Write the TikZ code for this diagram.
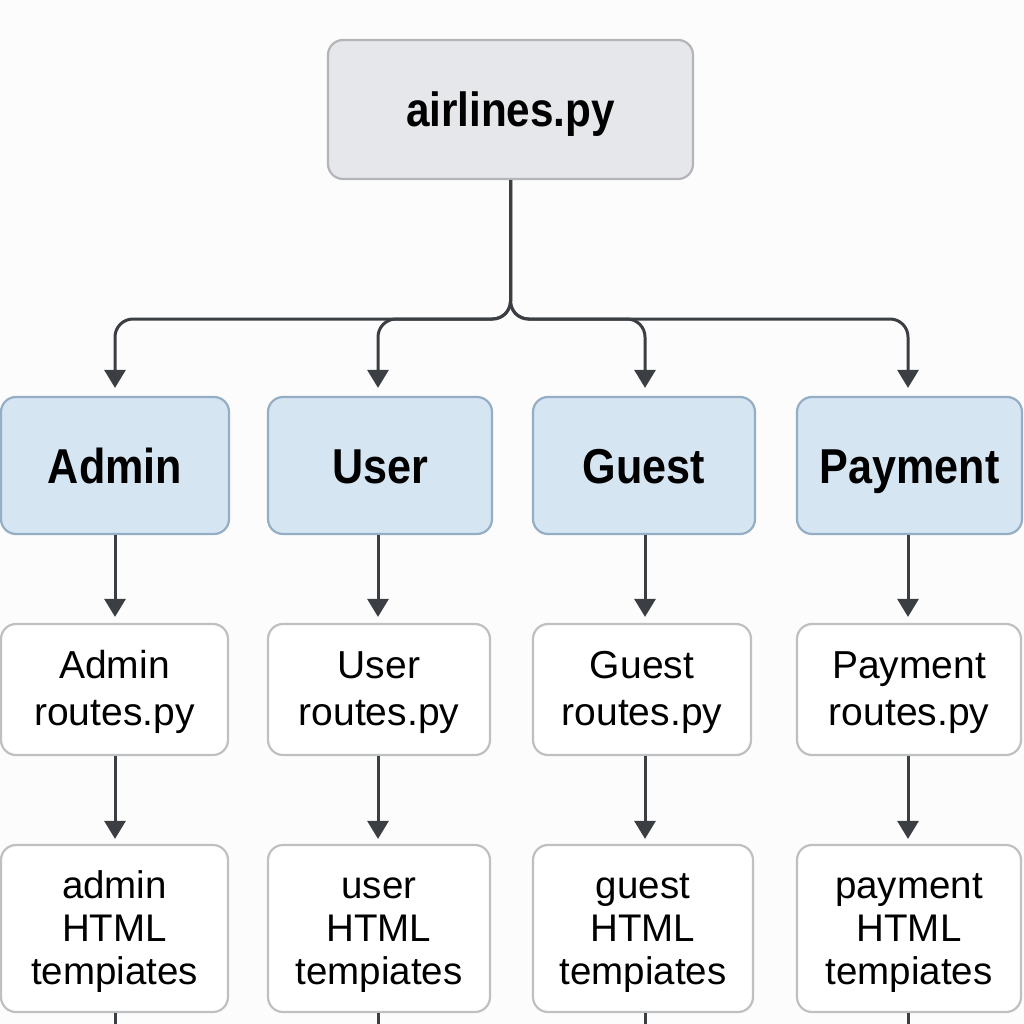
\documentclass[tikz,border=0pt]{standalone}
\usepackage{fontspec}
\setmainfont{Liberation Sans}
\newfontfamily\boldlab[FakeStretch=0.88]{Liberation Sans Bold}
\usetikzlibrary{arrows.meta}
\definecolor{bgc}{HTML}{FCFCFC}
\definecolor{topfill}{HTML}{E6E7EA}
\definecolor{topdraw}{HTML}{B4B5B8}
\definecolor{bluefill}{HTML}{D6E5F2}
\definecolor{bluedraw}{HTML}{94AEC5}
\definecolor{whitedraw}{HTML}{BFC0C2}
\definecolor{linec}{HTML}{3B3E43}
\newcommand{\asc}{\rule{0pt}{34pt}}
\tikzset{
  box/.style={rounded corners=15pt, line width=2.2pt, inner sep=0pt, align=center},
  topbox/.style={box, fill=topfill, draw=topdraw, minimum width=365pt, minimum height=139pt,
     text height=34pt, text depth=0pt,
     font=\boldlab\fontsize{48}{52}\selectfont},
  catbox/.style={box, fill=bluefill, draw=bluedraw, minimum height=137pt,
     text height=35pt, text depth=0pt,
     font=\boldlab\fontsize{49}{54}\selectfont},
  routebox/.style={box, fill=white, draw=whitedraw, minimum height=131pt,
     font=\fontsize{39}{47}\selectfont},
  tplbox/.style={box, fill=white, draw=whitedraw, minimum height=167pt,
     font=\fontsize{38.5}{43}\selectfont},
  conn/.style={draw=linec, line width=3pt, -{Triangle[width=21pt,length=18pt]}},
  stub/.style={draw=linec, line width=3pt},
}
\begin{document}
\begin{tikzpicture}[x=1pt,y=-1pt]
\fill[bgc] (0,0) rectangle (1024,1024);
\useasboundingbox (0,0) rectangle (1024,1024);

\node[topbox] (top) at (510.5,109.5) {airlines.py};

\node[catbox, minimum width=228pt] (admin) at (115,465.5) {Admin};
\node[catbox, minimum width=224pt] (user) at (380,465.5) {User};
\node[catbox, minimum width=222pt] (guest) at (644,465.5) {Guest};
\node[catbox, minimum width=225pt] (payment) at (909.5,465.5) {Payment};

\node[routebox, minimum width=227pt] (adminr) at (114.5,689.5) {\asc Admin\\routes.py};
\node[routebox, minimum width=222pt] (userr) at (379,689.5) {\asc User\\routes.py};
\node[routebox, minimum width=218pt] (guestr) at (642,689.5) {\asc Guest\\routes.py};
\node[routebox, minimum width=224pt] (paymentr) at (909,689.5) {\asc Payment\\routes.py};

\node[tplbox, minimum width=227pt] (admint) at (114.5,928.5) {\asc admin\\HTML\\tempiates};
\node[tplbox, minimum width=222pt] (usert) at (379,928.5) {\asc user\\HTML\\tempiates};
\node[tplbox, minimum width=220pt] (guestt) at (643,928.5) {\asc guest\\HTML\\tempiates};
\node[tplbox, minimum width=224pt] (paymentt) at (909,928.5) {\asc payment\\HTML\\tempiates};

% branch
\coordinate (hA) at (115,319);
\coordinate (hU) at (378,319);
\coordinate (hG) at (645,319);
\coordinate (hP) at (908,319);
\draw[conn, rounded corners=18pt, shorten >=8pt] (top.south) |- (hA) -- (hA |- admin.north);
\draw[conn, rounded corners=18pt, shorten >=8pt] (top.south) |- (hU) -- (hU |- user.north);
\draw[conn, rounded corners=18pt, shorten >=8pt] (top.south) |- (hG) -- (hG |- guest.north);
\draw[conn, rounded corners=18pt, shorten >=8pt] (top.south) |- (hP) -- (hP |- payment.north);

% category -> routes
\draw[conn, shorten >=6pt] (hA |- admin.south) -- (hA |- adminr.north);
\draw[conn, shorten >=6pt] (hU |- user.south) -- (hU |- userr.north);
\draw[conn, shorten >=6pt] (hG |- guest.south) -- (hG |- guestr.north);
\draw[conn, shorten >=6pt] (hP |- payment.south) -- (hP |- paymentr.north);

% routes -> templates
\draw[conn, shorten >=5pt] (hA |- adminr.south) -- (hA |- admint.north);
\draw[conn, shorten >=5pt] (hU |- userr.south) -- (hU |- usert.north);
\draw[conn, shorten >=5pt] (hG |- guestr.south) -- (hG |- guestt.north);
\draw[conn, shorten >=5pt] (hP |- paymentr.south) -- (hP |- paymentt.north);

% stubs below
\coordinate (bA) at (115,1024);
\coordinate (bU) at (378,1024);
\coordinate (bG) at (645,1024);
\coordinate (bP) at (908,1024);
\draw[stub] (hA |- admint.south) -- (bA);
\draw[stub] (hU |- usert.south) -- (bU);
\draw[stub] (hG |- guestt.south) -- (bG);
\draw[stub] (hP |- paymentt.south) -- (bP);
\end{tikzpicture}
\end{document}
